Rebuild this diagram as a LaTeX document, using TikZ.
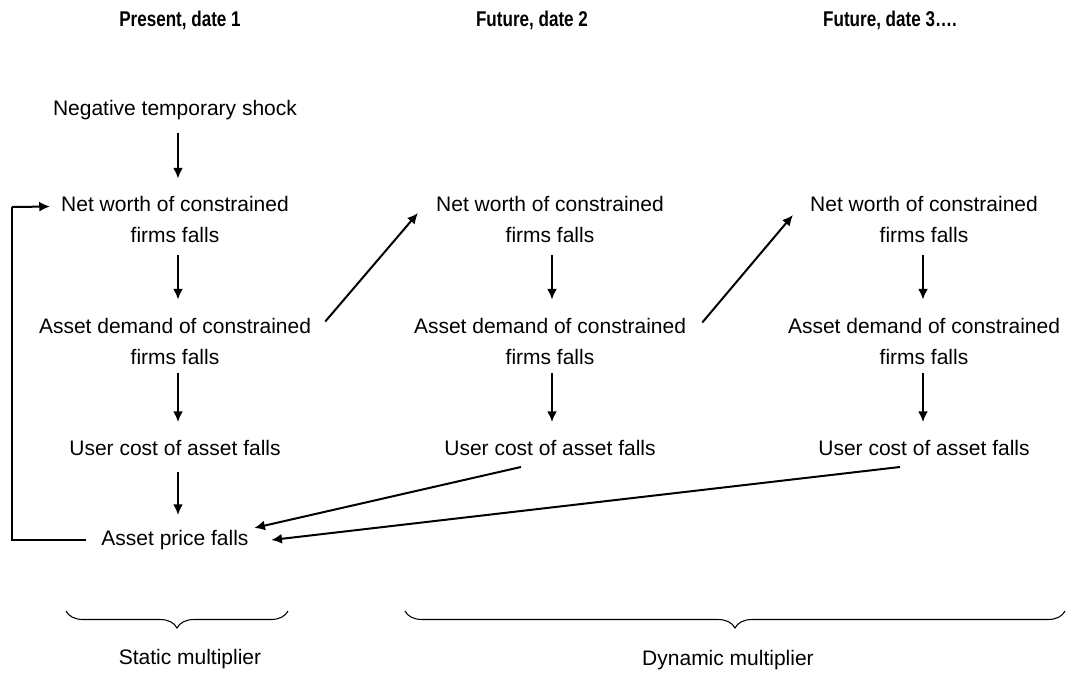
\documentclass[tikz,border=0pt]{standalone}
\usepackage{fontspec}
\setmainfont{Liberation Sans}
\usetikzlibrary{arrows.meta,decorations.pathreplacing}
\begin{document}
\begin{tikzpicture}[x=0.75pt,y=-0.75pt,
  txt/.style={inner sep=0pt, align=center, font=\fontsize{15.75pt}{23.25pt}\selectfont},
  hdr/.style={inner sep=0pt, font=\fontsize{16pt}{19pt}\selectfont\bfseries},
  arr/.style={line width=1.5pt, -{Latex[length=8pt,width=7.5pt]}},
  thinline/.style={line width=0.8pt},
  bracestyle/.style={line width=0.8pt, decorate, decoration={brace, mirror, amplitude=12.75pt}}]
\useasboundingbox (0,0) rectangle (1067,675);
% headers
\node[hdr] (h1) at (180,20) {\scalebox{0.8}[1]{Present, date 1}};
\node[hdr] (h2) at (532,20) {\scalebox{0.8}[1]{Future, date 2}};
\node[hdr] (h3) at (890,20) {\scalebox{0.8}[1]{Future, date 3….}};
% column 1
\node[txt] (shock) at (175,110) {Negative temporary shock};
\node[txt] (nw1) at (175,219) {Net worth of constrained\\firms falls};
\node[txt] (ad1) at (175,341) {Asset demand of constrained\\firms falls};
\node[txt] (uc1) at (175,448) {User cost of asset falls};
\node[txt] (ap) at (175,540) {Asset price falls};
% column 2
\node[txt] (nw2) at (550,219) {Net worth of constrained\\firms falls};
\node[txt] (ad2) at (550,341) {Asset demand of constrained\\firms falls};
\node[txt] (uc2) at (550,448) {User cost of asset falls};
% column 3
\node[txt] (nw3) at (924,219) {Net worth of constrained\\firms falls};
\node[txt] (ad3) at (924,341) {Asset demand of constrained\\firms falls};
\node[txt] (uc3) at (924,448) {User cost of asset falls};
% vertical arrows
\draw[arr] ([shift={(3,13)}]shock.south) -- ([shift={(3,-17)}]nw1.north);
\draw[arr] ([shift={(3,13)}]nw1.south) -- ([shift={(3,-18)}]ad1.north);
\draw[arr] ([shift={(3,9)}]ad1.south) -- ([shift={(3,-18)}]uc1.north);
\draw[arr] ([shift={(3,16)}]uc1.south) -- ([shift={(3,-15)}]ap.north);
\draw[arr] ([shift={(2,13)}]nw2.south) -- ([shift={(2,-18)}]ad2.north);
\draw[arr] ([shift={(2,9)}]ad2.south) -- ([shift={(2,-18)}]uc2.north);
\draw[arr] ([shift={(-1,13)}]nw3.south) -- ([shift={(-1,-18)}]ad3.north);
\draw[arr] ([shift={(-1,9)}]ad3.south) -- ([shift={(-1,-18)}]uc3.north);
% diagonal arrows up
\draw[arr] ([shift={(14,4)}]ad1.north east) -- ([shift={(-18,17.5)}]nw2.north west);
\draw[arr] ([shift={(16,5)}]ad2.north east) -- ([shift={(-17,19.5)}]nw3.north west);
% arrows back to asset price
\draw[arr] ([shift={(-29,11)}]uc2.south) -- ([shift={(5.5,-2)}]ap.north east);
\draw[arr] ([shift={(-24,11)}]uc3.south) -- ([shift={(22.5,0)}]ap.east);
% feedback loop
\coordinate (fbb) at (12,540);
\coordinate (fbt) at (12,207);
\draw[thinline] ([shift={(-15,0)}]ap.west) -- (fbb) -- (fbt);
\draw[arr] (fbt) -- ([shift={(-11,11)}]nw1.north west);
% braces
\coordinate (s1) at (66,611);
\coordinate (s2) at (288,611);
\coordinate (d1) at (405,611);
\coordinate (d2) at (1065,611);
\draw[bracestyle] (s1) -- (s2);
\draw[bracestyle] (d1) -- (d2);
\node[txt] (sm) at (190,659) {Static multiplier};
\node[txt] (dm) at (728,660) {Dynamic multiplier};
\end{tikzpicture}
\end{document}
